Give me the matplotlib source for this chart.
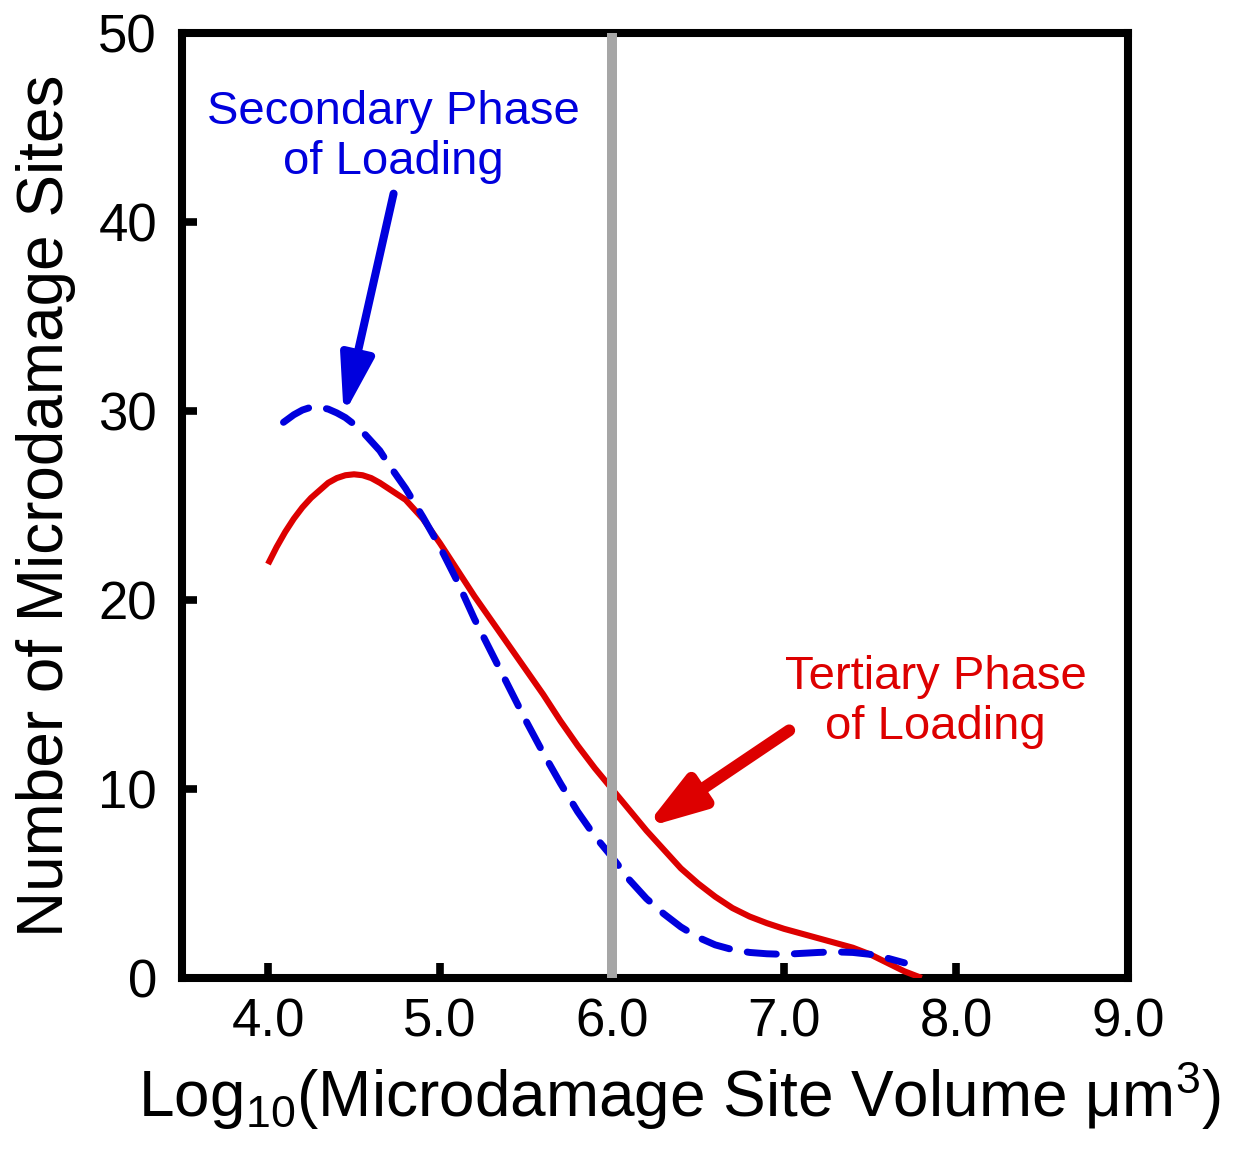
import matplotlib
matplotlib.use("Agg")
import matplotlib.pyplot as plt

plt.rcParams['font.family'] = ['Liberation Sans', 'DejaVu Sans']
plt.rcParams['mathtext.fontset'] = 'custom'
plt.rcParams['mathtext.rm'] = 'Liberation Sans'
plt.rcParams['mathtext.default'] = 'regular'

# tertiary phase (solid red)
tertiary_x = [4.0, 4.05, 4.1, 4.15, 4.2, 4.25, 4.3, 4.35, 4.4, 4.45, 4.5, 4.55, 4.6,
              4.65, 4.7, 4.8, 4.9, 5.0, 5.1, 5.2, 5.3, 5.4, 5.5, 5.6, 5.7, 5.8, 5.9,
              6.0, 6.1, 6.2, 6.3, 6.4, 6.5, 6.6, 6.7, 6.8, 6.9, 7.0, 7.1, 7.2, 7.3,
              7.4, 7.5, 7.6, 7.7, 7.8]
tertiary_y = [21.9, 22.8, 23.6, 24.3, 24.9, 25.4, 25.8, 26.2, 26.45, 26.6, 26.65, 26.6,
              26.45, 26.2, 25.9, 25.3, 24.3, 23.0, 21.6, 20.2, 18.9, 17.6, 16.3, 15.0,
              13.6, 12.3, 11.1, 10.0, 8.9, 7.8, 6.8, 5.8, 5.0, 4.3, 3.7, 3.25, 2.9,
              2.6, 2.35, 2.1, 1.85, 1.6, 1.25, 0.8, 0.35, 0.0]

# secondary phase (dashed blue)
secondary_x = [4.09, 4.15, 4.2, 4.25, 4.3, 4.35, 4.4, 4.45, 4.5, 4.55, 4.6, 4.65, 4.7,
               4.8, 4.9, 5.0, 5.1, 5.2, 5.3, 5.4, 5.5, 5.6, 5.7, 5.8, 5.9, 6.0, 6.1,
               6.2, 6.3, 6.4, 6.5, 6.6, 6.7, 6.8, 6.9, 7.0, 7.1, 7.2, 7.3, 7.4, 7.5,
               7.6, 7.7]
secondary_y = [29.4, 29.8, 30.05, 30.2, 30.2, 30.1, 29.9, 29.65, 29.3, 28.9, 28.4,
               27.9, 27.2, 25.9, 24.4, 22.8, 21.0, 19.0, 17.2, 15.4, 13.6, 11.9, 10.3,
               8.8, 7.5, 6.4, 5.2, 4.2, 3.4, 2.7, 2.15, 1.75, 1.5, 1.35, 1.28, 1.25,
               1.3, 1.35, 1.38, 1.35, 1.25, 1.05, 0.8]

x_ticks = [4.0, 5.0, 6.0, 7.0, 8.0, 9.0]
y_ticks = [0, 10, 20, 30, 40, 50]
threshold = 6.0

red = '#dd0000'
blue = '#0000dd'

fig = plt.figure(figsize=(12.44, 11.5), dpi=100)
ax = fig.add_axes([0.1463, 0.1496, 0.7605, 0.8217])

ax.plot(tertiary_x, tertiary_y, color=red, lw=4.4, solid_capstyle='butt',
        solid_joinstyle='round', zorder=3)
ax.plot(secondary_x, secondary_y, color=blue, lw=5, linestyle=(0, (4.2, 2.6)),
        dash_capstyle='round', dash_joinstyle='round', zorder=3)
# grey divider at 10^6 um^3, drawn over the curves
ax.axvline(threshold, color='#a6a6a6', lw=7.2, zorder=4)

ax.set_xlim(3.5, 9.0)
ax.set_ylim(0, 50)
ax.set_xticks(x_ticks)
ax.set_xticklabels([f'{v:.1f}' for v in x_ticks])
ax.set_yticks(y_ticks)
ax.set_yticklabels([str(v) for v in y_ticks])

for s in ax.spines.values():
    s.set_linewidth(5.8)
ax.tick_params(axis='both', direction='in', length=11, width=5.5, labelsize=38)
ax.tick_params(axis='x', pad=14)
ax.tick_params(axis='y', pad=18)

ax.set_xlabel('Log$_{10}$(Microdamage Site Volume μm$^{3}$)', fontsize=46, labelpad=8)
ax.xaxis.label.set_position((0.526, 0))
ax.set_ylabel('Number of Microdamage Sites', fontsize=46, labelpad=16)

# annotations
ax.text(4.73, 44.5, 'Secondary Phase\nof Loading', color=blue, fontsize=34,
        ha='center', va='center', multialignment='center')
ax.annotate('', xy=(4.44, 29.8), xytext=(4.73, 41.5),
            arrowprops=dict(arrowstyle='-|>,head_length=35,head_width=10',
                            mutation_scale=1, lw=5.8, color=blue,
                            shrinkA=0, shrinkB=0))

ax.text(7.88, 14.6, 'Tertiary Phase\nof Loading', color=red, fontsize=34,
        ha='center', va='center', multialignment='center')
ax.annotate('', xy=(6.19, 7.95), xytext=(7.03, 13.1),
            arrowprops=dict(arrowstyle='-|>,head_length=34,head_width=11',
                            mutation_scale=1, lw=8.6, color=red,
                            shrinkA=0, shrinkB=0))

fig.savefig('out.png', dpi=100)
